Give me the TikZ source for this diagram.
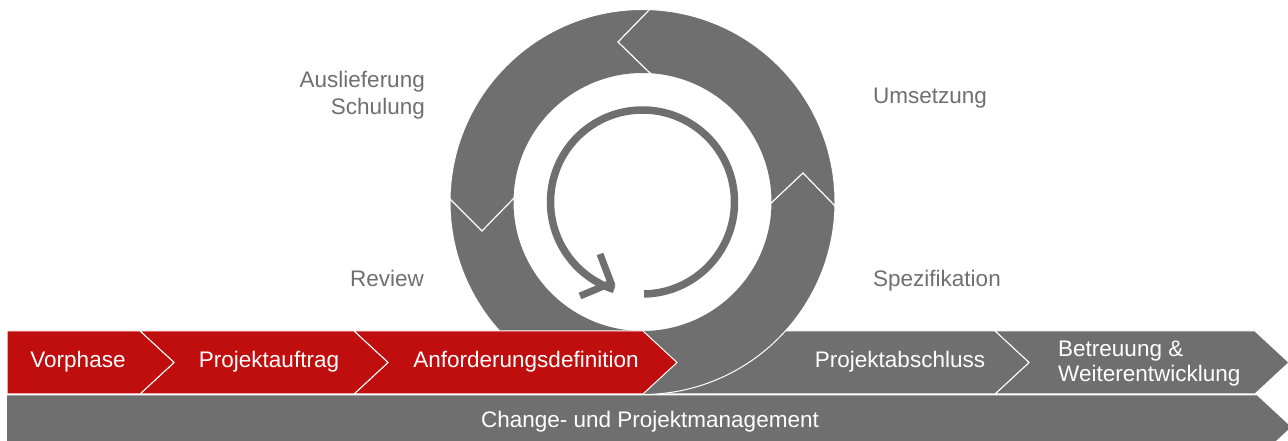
\documentclass[tikz,border=0pt]{standalone}
\usepackage{fontspec}
\setmainfont{Liberation Sans}
\definecolor{rd}{HTML}{C00E0E}
\definecolor{gr}{HTML}{6F6F6F}
\begin{document}
\begin{tikzpicture}[x=1pt,y=1pt,
  redchev/.style={fill=rd,draw=white,line width=1pt,line join=miter},
  graychev/.style={fill=gr,draw=white,line width=1pt,line join=miter},
  bartext/.style={text=white,font=\fontsize{22.5}{27}\selectfont,inner sep=0pt,anchor=base},
  lbl/.style={text=gr,font=\fontsize{22.5}{27}\selectfont,inner sep=0pt},
  sepline/.style={draw=white,line width=1.2pt,line join=miter}]
\useasboundingbox (0,0) rectangle (1288,441);
\clip (0,0) rectangle (1288,441);
\coordinate (C) at (642.5,239);
% change bar
\fill[gr] (7,45.5) -- (1257,45.5) -- (1291,14) -- (1257,-17.5) -- (7,-17.5) -- cycle;
% gray chevrons
\draw[graychev] (995,110) -- (1255,110) -- (1289,78.5) -- (1255,47) -- (995,47) -- (1029,78.5) -- cycle;
\draw[graychev] (643,110) -- (995,110) -- (1029,78.5) -- (995,47) -- (643,47) -- (677,78.5) -- cycle;
% ring
\fill[gr,even odd rule] (C) circle[radius=192.5] (C) circle[radius=129];
\draw[white,line width=1pt] (C) circle[radius=192.5];
% ring separators
\draw[sepline] (652,434) -- (618,399) -- (652,366);
\draw[sepline] (769,236) -- (803,268) -- (836,234);
\draw[sepline] (448,244) -- (482,210) -- (515,244);
% red chevrons
\draw[redchev] (354,110) -- (643,110) -- (677,78.5) -- (643,47) -- (354,47) -- (388,78.5) -- cycle;
\draw[redchev] (140,110) -- (354,110) -- (388,78.5) -- (354,47) -- (140,47) -- (174,78.5) -- cycle;
\draw[redchev] (7,110) -- (140,110) -- (174,78.5) -- (140,47) -- (7,47) -- cycle;
% inner arrow
\draw[gr,line width=7.5pt] ([shift={(271:92)}]C) arc[start angle=271,end angle=612,radius=92];
\draw[gr,line width=7pt,line join=miter] (600,187) -- (611,158) -- (580,145);
% texts
\node[bartext] (vor) at (78,73) {Vorphase};
\node[bartext] (pa) at (269,73) {Projektauftrag};
\node[bartext] (anf) at (526,73) {Anforderungsdefinition};
\node[bartext] (pab) at (900,73) {Projektabschluss};
\node[bartext,anchor=north west,align=left,font=\fontsize{22.5}{24.5}\selectfont] (bet) at (1058,100) {Betreuung \&\\Weiterentwicklung};
\node[bartext] (chg) at (650,13) {Change- und Projektmanagement};
\node[lbl,anchor=north east,align=right] (aus) at (425,370) {Auslieferung\\Schulung};
\node[lbl,anchor=base west] (ums) at (873,337) {Umsetzung};
\node[lbl,anchor=base east] (rev) at (424,154) {Review};
\node[lbl,anchor=base west] (spe) at (873,154) {Spezifikation};
\end{tikzpicture}
\end{document}
